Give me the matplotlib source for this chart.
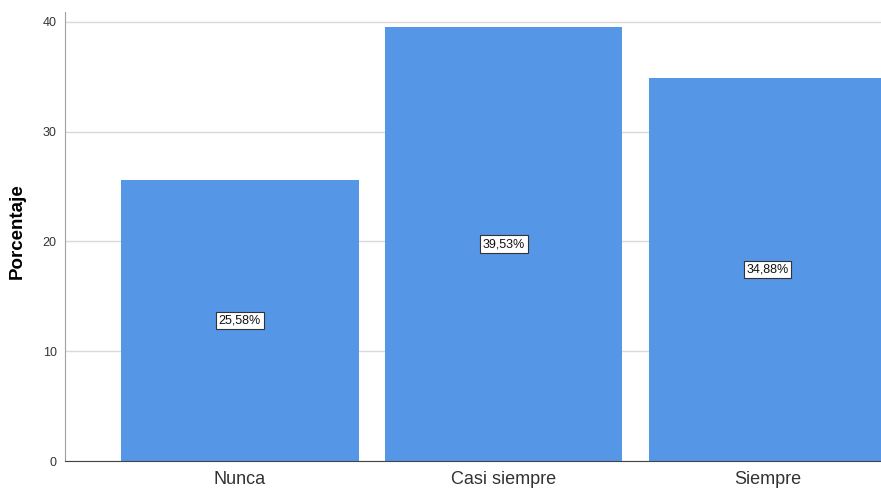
import matplotlib
matplotlib.use("Agg")
import matplotlib.pyplot as plt

categories = ["Nunca", "Casi siempre", "Siempre"]
values = [25.58, 39.53, 34.88]
labels = ["25,58%", "39,53%", "34,88%"]
yticks = [0, 10, 20, 30, 40]

plt.rcParams['font.family'] = ['Liberation Sans', 'DejaVu Sans']

fig = plt.figure(figsize=(8.81, 4.88), dpi=100)
ax = fig.add_axes([65/881, 1 - 461/488, 1 - 65/881, (461 - 12)/488])

x = list(range(len(categories)))
ax.bar(x, values, width=0.9, color="#5596E6", zorder=2)
for xi, v, lab in zip(x, values, labels):
    ax.text(xi, v / 2, lab, ha="center", va="center", fontsize=9, zorder=3, color="#111111",
            bbox=dict(boxstyle="square,pad=0.22", facecolor="white", edgecolor="#333333", linewidth=0.8))

ax.set_xlim(-0.663, 2.43)
ax.set_ylim(0, 40.9)
ax.set_yticks(yticks)
ax.set_xticks(x)
ax.set_xticklabels(categories, fontsize=13, color="#333333")
ax.tick_params(axis="y", length=0, labelsize=9, colors="#333333", pad=6)
ax.tick_params(axis="x", length=0, pad=7)
ax.yaxis.grid(True, color="#d9d9d9", linewidth=1, zorder=0)
ax.set_axisbelow(True)
ax.spines["top"].set_visible(False)
ax.spines["right"].set_visible(False)
ax.spines["left"].set_color("#a0a0a0")
ax.spines["bottom"].set_color("#444444")
ax.set_ylabel("Porcentaje", fontsize=13.5, fontweight="bold")
ax.yaxis.set_label_coords(-(65 - 26) / (881 - 65), (461 - 231) / (461 - 12))

fig.savefig("out.png", dpi=100)
